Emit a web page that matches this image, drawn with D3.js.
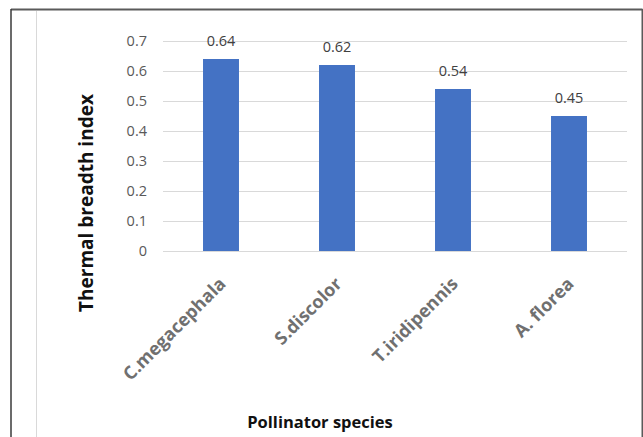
<!DOCTYPE html>
<html>
<head>
<meta charset="utf-8">
<script src="https://cdn.jsdelivr.net/npm/d3@7"></script>
<style>
    body { margin: 0; background: #fff; }
    svg { display: block; font-family: "Open Sans", sans-serif; }
</style>
</head>
<body>
<svg id="thermalGraph" width="643" height="437"></svg>
<script>
// data
const species = ["C.megacephala", "S.discolor", "T.iridipennis", "A. florea"];
const breadth = [0.64, 0.62, 0.54, 0.45];
const yTicks = [0, 0.1, 0.2, 0.3, 0.4, 0.5, 0.6, 0.7];

document.addEventListener("DOMContentLoaded", () => {
    const left = 163, right = 627, top = 41, bottom = 251;

    const data = species.map((s, i) => ({ name: s, value: breadth[i] }));

    const yAxis = d3.scaleLinear().range([bottom, top]).domain([0, 0.7]);

    const xAxis = d3.scaleBand()
        .range([left, right])
        .domain(species)
        .paddingInner(0.69)
        .paddingOuter(0.345);

    const svg = d3.select("#thermalGraph");

    // chart frame: dark border top/left/right, light inner line on the left
    svg.append("line")
        .attr("x1", 11).attr("x2", 642.5).attr("y1", 9.5).attr("y2", 9.5)
        .attr("stroke", "#5a5a5a").attr("stroke-width", 2);
    svg.append("line")
        .attr("x1", 11).attr("x2", 11).attr("y1", 9).attr("y2", 437)
        .attr("stroke", "#3a3a3a").attr("stroke-width", 1.5);
    svg.append("line")
        .attr("x1", 642.5).attr("x2", 642.5).attr("y1", 9).attr("y2", 437)
        .attr("stroke", "#5a5a5a").attr("stroke-width", 2);
    svg.append("line")
        .attr("x1", 36.5).attr("x2", 36.5).attr("y1", 11).attr("y2", 437)
        .attr("stroke", "#d9d9d9").attr("stroke-width", 1);

    // grid lines + y tick labels
    const yg = svg.append("g")
        .attr("transform", `translate(${left}, 0)`)
        .call(d3.axisLeft(yAxis)
            .tickValues(yTicks)
            .tickSize(-(right - left))
            .tickPadding(16)
            .tickFormat(d => d === 0 ? "0" : d3.format(".1f")(d)));
    yg.select(".domain").remove();
    yg.selectAll(".tick line")
        .attr("stroke", "#d9d9d9")
        .attr("stroke-width", 1);
    yg.selectAll(".tick text")
        .style("font-family", "Open Sans")
        .style("font-size", "14.5px")
        .style("fill", "#595959");

    // bars
    svg.selectAll(".bar")
        .data(data)
        .enter()
        .append("rect")
        .attr("class", "bar")
        .attr("x", d => xAxis(d.name))
        .attr("y", d => yAxis(d.value))
        .attr("width", xAxis.bandwidth())
        .attr("height", d => bottom - yAxis(d.value))
        .style("fill", "#4472c4");

    // values above bars
    svg.selectAll(".bar-val")
        .data(data)
        .enter()
        .append("text")
        .attr("class", "bar-val")
        .attr("x", d => xAxis(d.name) + xAxis.bandwidth() / 2)
        .attr("y", d => yAxis(d.value) - 13)
        .attr("text-anchor", "middle")
        .style("font-size", "14.5px")
        .style("fill", "#404040")
        .text(d => d.value.toFixed(2));

    // rotated category labels
    svg.selectAll(".cat-label")
        .data(data)
        .enter()
        .append("text")
        .attr("class", "cat-label")
        .attr("text-anchor", "end")
        .attr("transform", d => `translate(${xAxis(d.name) + xAxis.bandwidth() / 2 + 6}, 285) rotate(-45)`)
        .style("font-size", "18px")
        .style("font-weight", "bold")
        .style("fill", "#707070")
        .text(d => d.name);

    // axis titles
    svg.append("text")
        .attr("transform", "translate(93, 203) rotate(-90)")
        .attr("text-anchor", "middle")
        .style("font-size", "19px")
        .style("font-weight", "bold")
        .style("fill", "#111")
        .text("Thermal breadth index");

    svg.append("text")
        .attr("x", 320)
        .attr("y", 428)
        .attr("text-anchor", "middle")
        .style("font-size", "16.5px")
        .style("font-weight", "bold")
        .style("fill", "#111")
        .text("Pollinator species");
});
</script>
</body>
</html>
